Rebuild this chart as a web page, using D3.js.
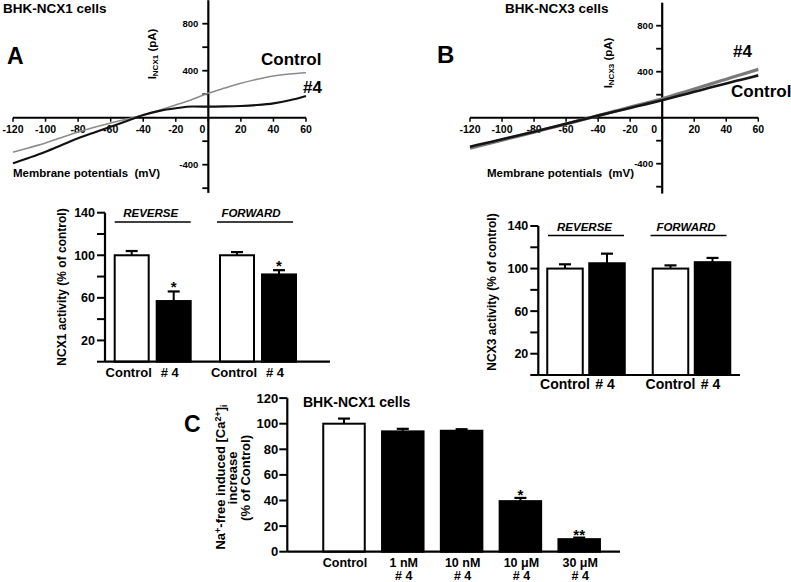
<!DOCTYPE html>
<html>
<head>
<meta charset="utf-8">
<script src="https://cdn.jsdelivr.net/npm/d3@7/dist/d3.min.js"></script>
<style>
    body { margin: 0; background: #fff; }
    text { font-family: "Liberation Sans", Arial, sans-serif; font-weight: bold; fill: #000; }
</style>
</head>
<body>
<svg id="fig" width="791" height="582"></svg>
<script>
// I-V traces, read every 10 mV
const voltages = [-120, -110, -100, -90, -80, -70, -60, -50, -40, -30, -20, -10, 0, 10, 20, 30, 40, 50, 60];
const ncx1Control = [-294, -255, -215, -168, -122, -82, -45, -12, 23, 63, 108, 155, 208, 252, 293, 327, 355, 372, 383];
const ncx1Cmpd4 = [-388, -340, -289, -232, -175, -125, -77, -28, 23, 58, 80, 95, 94, 96, 100, 108, 122, 148, 185];
const ncx3Control = [-252, -220, -188, -155, -122, -87, -52, -17, 18, 52, 85, 118, 152, 188, 225, 262, 298, 333, 368];
const ncx3Cmpd4 = [-265, -230, -195, -160, -125, -90, -55, -18, 18, 55, 92, 128, 165, 207, 250, 292, 335, 378, 420];
const mvTicks = [-120, -100, -80, -60, -40, -20, 0, 20, 40, 60];
const paTicks = [-600, -400, -200, 200, 400, 600, 800];
const paLabels = [800, 400, -400];

// activity bars
const modes = ["REVERSE", "FORWARD"];
const treatments = ["Control", "# 4"];
const ncx1Activity = [[100, 57], [100, 82]];
const ncx1Sem = [[4, 9], [3, 4]];
const ncx1Sig = [["", "*"], ["", "*"]];
const ncx3Activity = [[100, 105], [100, 106]];
const ncx3Sem = [[4, 9], [3, 4]];
const ncx3Sig = [["", ""], ["", ""]];
const activityTicks = [0, 20, 40, 60, 80, 100, 120, 140];
const activityLabels = [20, 60, 100, 140];

// dose response
const doses = ["Control", "1 nM", "10 nM", "10 μM", "30 μM"];
const doseSub = ["", "# 4", "# 4", "# 4", "# 4"];
const caIncrease = [100, 94, 94.5, 39.5, 9.8];
const caSem = [4, 2, 1.2, 2.5, 1.2];
const caSig = ["", "", "", "*", "**"];
const caTicks = [0, 20, 40, 60, 80, 100, 120];

var svg = d3.select("#fig");
svg.append("rect").attr("width", 791).attr("height", 582).attr("fill", "#fff");

function label(x, y, txt, size) {
    return svg.append("text").attr("x", x).attr("y", y)
        .style("font-size", size + "px").text(txt);
}

function ivPanel(o) {
    var x = d3.scaleLinear().domain([-120, 60]).range(o.xRange);
    var y = d3.scaleLinear().domain(o.yDomain).range(o.yRange);
    var g = svg.append("g");

    var line = d3.line()
        .x(function(d, i) { return x(voltages[i]); })
        .y(function(d) { return y(d); })
        .curve(d3.curveMonotoneX);

    // axes
    g.append("line")
        .attr("x1", x(-120)).attr("x2", x(60))
        .attr("y1", y(0)).attr("y2", y(0))
        .attr("stroke", "#000").attr("stroke-width", 2);
    g.append("line")
        .attr("x1", x(0)).attr("x2", x(0))
        .attr("y1", y(o.yDomain[0])).attr("y2", y(o.yDomain[1]))
        .attr("stroke", "#000").attr("stroke-width", 2.2);

    g.selectAll("line.xt").data(mvTicks).enter().append("line")
        .attr("class", "xt")
        .attr("x1", function(d) { return x(d); }).attr("x2", function(d) { return x(d); })
        .attr("y1", y(0)).attr("y2", y(0) + 4)
        .attr("stroke", "#000").attr("stroke-width", 1.5);
    g.selectAll("text.xl").data(mvTicks).enter().append("text")
        .attr("class", "xl")
        .attr("x", function(d) { return x(d) + (d === 0 ? o.zeroShift : 0); })
        .attr("y", y(0) + 15.5)
        .attr("text-anchor", "middle")
        .style("font-size", "10.5px")
        .text(function(d) { return d; });

    g.selectAll("line.yt").data(paTicks).enter().append("line")
        .attr("class", "yt")
        .attr("x1", x(0) - 6).attr("x2", x(0))
        .attr("y1", function(d) { return y(d); }).attr("y2", function(d) { return y(d); })
        .attr("stroke", "#000").attr("stroke-width", 1.8);
    g.selectAll("text.yl").data(paLabels).enter().append("text")
        .attr("class", "yl")
        .attr("x", x(0) - o.yLabelGap)
        .attr("y", function(d) { return y(d); })
        .attr("dy", "0.35em")
        .attr("text-anchor", "end")
        .style("font-size", "9.5px")
        .text(function(d) { return d; });

    o.curves.forEach(function(c) {
        g.append("path")
            .attr("d", line(c.values))
            .attr("fill", "none")
            .attr("stroke", c.color)
            .attr("stroke-width", c.width)
            .attr("stroke-linejoin", "round");
    });

    // axis titles
    g.append("text")
        .attr("x", o.xTitle[0]).attr("y", o.xTitle[1])
        .style("font-size", "11.5px").style("white-space", "pre")
        .text("Membrane potentials  (mV)");
    var yt = g.append("text")
        .attr("transform", "translate(" + o.yTitle[0] + "," + o.yTitle[1] + ") rotate(-90)")
        .attr("text-anchor", "middle").attr("dy", "0.35em")
        .style("font-size", "11.5px");
    yt.append("tspan").text("I");
    yt.append("tspan").attr("dy", 2).style("font-size", "8px").text(o.sub);
    yt.append("tspan").attr("dy", -2).style("white-space", "pre").text(" (pA)");
}

ivPanel({
    xRange: [13, 306], yDomain: [-640, 1000], yRange: [192.9, 0.2],
    zeroShift: -6, yLabelGap: 10,
    curves: [
        { values: ncx1Control, color: "#8c8c8c", width: 1.6 },
        { values: ncx1Cmpd4, color: "#111", width: 2.1 }
    ],
    xTitle: [13, 177], yTitle: [152, 54], sub: "NCX1"
});

ivPanel({
    xRange: [470, 758.3], yDomain: [-660, 1000], yRange: [193.6, 2.7],
    zeroShift: -8, yLabelGap: 9,
    curves: [
        { values: ncx3Cmpd4, color: "#7a7a7a", width: 3.2 },
        { values: ncx3Control, color: "#151515", width: 2.6 }
    ],
    xTitle: [487, 177], yTitle: [608, 63], sub: "NCX3"
});

label(3, 12.5, "BHK-NCX1 cells", 13.5);
label(505, 12.5, "BHK-NCX3 cells", 13.5);
label(7, 64, "A", 23);
label(437, 63, "B", 24);
label(261, 65, "Control", 17);
label(303, 93, "#4", 17);
label(733, 57, "#4", 17);
label(731, 97, "Control", 17);

function barPanel(o) {
    var y = d3.scaleLinear().domain([0, 140]).range(o.yRange);
    var gx = d3.scalePoint().domain(modes).range(o.groupRange);
    var tx = d3.scalePoint().domain(treatments).range([-21, 21]);
    var g = svg.append("g");

    var bars = [];
    modes.forEach(function(m, gi) {
        treatments.forEach(function(t, ti) {
            bars.push({ mode: m, treat: t, ti: ti,
                value: o.values[gi][ti], sem: o.sem[gi][ti], sig: o.sig[gi][ti] });
        });
    });
    var cx = function(d) { return gx(d.mode) + tx(d.treat); };

    // error bars (upper only)
    g.selectAll("line.err").data(bars).enter().append("line")
        .attr("class", "err")
        .attr("x1", cx).attr("x2", cx)
        .attr("y1", function(d) { return y(d.value); })
        .attr("y2", function(d) { return y(d.value + d.sem); })
        .attr("stroke", "#000").attr("stroke-width", 2);
    g.selectAll("line.cap").data(bars).enter().append("line")
        .attr("class", "cap")
        .attr("x1", function(d) { return cx(d) - 6; }).attr("x2", function(d) { return cx(d) + 6; })
        .attr("y1", function(d) { return y(d.value + d.sem); })
        .attr("y2", function(d) { return y(d.value + d.sem); })
        .attr("stroke", "#000").attr("stroke-width", 2.2);

    g.selectAll("rect").data(bars).enter().append("rect")
        .attr("x", function(d) { return cx(d) - o.barWidth / 2; })
        .attr("width", o.barWidth)
        .attr("y", function(d) { return y(d.value); })
        .attr("height", function(d) { return y(0) - y(d.value); })
        .attr("fill", function(d) { return d.ti === 0 ? "#fff" : "#000"; })
        .attr("stroke", "#000").attr("stroke-width", 2);

    g.selectAll("text.sig").data(bars).enter().append("text")
        .attr("class", "sig")
        .attr("x", cx)
        .attr("y", function(d) { return y(d.value + d.sem) + 1; })
        .attr("text-anchor", "middle")
        .style("font-size", "15px")
        .text(function(d) { return d.sig; });

    // axes
    g.append("line")
        .attr("x1", o.axisX).attr("x2", o.axisX)
        .attr("y1", y(0)).attr("y2", y(140))
        .attr("stroke", "#000").attr("stroke-width", 2.2);
    g.append("line")
        .attr("x1", o.axisX).attr("x2", o.axisEnd)
        .attr("y1", y(0)).attr("y2", y(0))
        .attr("stroke", "#000").attr("stroke-width", 2.2);
    g.selectAll("line.yt").data(activityTicks).enter().append("line")
        .attr("class", "yt")
        .attr("x1", o.axisX - 8).attr("x2", o.axisX)
        .attr("y1", function(d) { return y(d); }).attr("y2", function(d) { return y(d); })
        .attr("stroke", "#000").attr("stroke-width", 2);
    g.selectAll("text.yl").data(activityLabels).enter().append("text")
        .attr("class", "yl")
        .attr("x", o.axisX - 10)
        .attr("y", function(d) { return y(d); })
        .attr("dy", "0.35em")
        .attr("text-anchor", "end")
        .style("font-size", "12.5px")
        .text(function(d) { return d; });

    // x labels
    g.selectAll("text.xl").data(bars).enter().append("text")
        .attr("class", "xl")
        .attr("x", function(d) { return cx(d) + (d.ti === 0 ? o.ctlShift : o.cmpShift); })
        .attr("y", y(0) + o.xLabelDy)
        .attr("text-anchor", "middle")
        .style("font-size", o.xLabelSize + "px")
        .text(function(d) { return d.treat; });

    // mode headers
    modes.forEach(function(m, i) {
        g.append("text")
            .attr("x", gx(m) + o.headerShift[i]).attr("y", o.headerY)
            .attr("text-anchor", "middle")
            .style("font-size", "11.5px").style("font-style", "italic")
            .text(m);
        g.append("line")
            .attr("x1", gx(m) - 38 + o.lineShift[i]).attr("x2", gx(m) + 38 + o.lineShift[i])
            .attr("y1", o.headerY + 5).attr("y2", o.headerY + 5)
            .attr("stroke", "#000").attr("stroke-width", 1.6);
    });

    g.append("text")
        .attr("transform", "translate(" + o.yTitle[0] + "," + o.yTitle[1] + ") rotate(-90)")
        .attr("text-anchor", "middle").attr("dy", "0.35em")
        .style("font-size", "12px")
        .text(o.yTitleText);
}

barPanel({
    yRange: [361.7, 212.7], groupRange: [152.7, 258], barWidth: 34,
    values: ncx1Activity, sem: ncx1Sem, sig: ncx1Sig,
    axisX: 105, axisEnd: 330, xLabelDy: 15, xLabelSize: 13, ctlShift: -3, cmpShift: -4,
    headerY: 217, headerShift: [-2, -7], lineShift: [0, -3],
    yTitle: [62, 287], yTitleText: "NCX1 activity (% of control)"
});

barPanel({
    yRange: [375, 226], groupRange: [586, 691.5], barWidth: 35.5,
    values: ncx3Activity, sem: ncx3Sem, sig: ncx3Sig,
    axisX: 538.3, axisEnd: 740, xLabelDy: 13.5, xLabelSize: 14, ctlShift: 0, cmpShift: -2,
    headerY: 230.5, headerShift: [-1.5, -5.5], lineShift: [0, -3],
    yTitle: [492, 292], yTitleText: "NCX3 activity (% of control)"
});

// panel C
(function() {
    var y = d3.scaleLinear().domain([0, 120]).range([551.7, 398.1]);
    var x = d3.scalePoint().domain(doses).range([344, 579.2]);
    var axisX = 287.3, w = 41.5;
    var g = svg.append("g");

    g.selectAll("line.err").data(doses).enter().append("line")
        .attr("class", "err")
        .attr("x1", function(d) { return x(d); }).attr("x2", function(d) { return x(d); })
        .attr("y1", function(d, i) { return y(caIncrease[i]); })
        .attr("y2", function(d, i) { return y(caIncrease[i] + caSem[i]); })
        .attr("stroke", "#000").attr("stroke-width", 2);
    g.selectAll("line.cap").data(doses).enter().append("line")
        .attr("class", "cap")
        .attr("x1", function(d) { return x(d) - 6; }).attr("x2", function(d) { return x(d) + 6; })
        .attr("y1", function(d, i) { return y(caIncrease[i] + caSem[i]); })
        .attr("y2", function(d, i) { return y(caIncrease[i] + caSem[i]); })
        .attr("stroke", "#000").attr("stroke-width", 2.2);

    g.selectAll("rect").data(doses).enter().append("rect")
        .attr("x", function(d) { return x(d) - w / 2; })
        .attr("width", w)
        .attr("y", function(d, i) { return y(caIncrease[i]); })
        .attr("height", function(d, i) { return y(0) - y(caIncrease[i]); })
        .attr("fill", function(d, i) { return i === 0 ? "#fff" : "#000"; })
        .attr("stroke", "#000").attr("stroke-width", 2);

    g.selectAll("text.sig").data(doses).enter().append("text")
        .attr("class", "sig")
        .attr("x", function(d) { return x(d); })
        .attr("y", function(d, i) { return y(caIncrease[i] + caSem[i]) + 2; })
        .attr("text-anchor", "middle")
        .style("font-size", "15px")
        .text(function(d, i) { return caSig[i]; });

    g.append("line")
        .attr("x1", axisX).attr("x2", axisX)
        .attr("y1", y(0)).attr("y2", y(120))
        .attr("stroke", "#000").attr("stroke-width", 2.2);
    g.append("line")
        .attr("x1", axisX).attr("x2", 620)
        .attr("y1", y(0)).attr("y2", y(0))
        .attr("stroke", "#000").attr("stroke-width", 2.2);
    g.selectAll("line.yt").data(caTicks).enter().append("line")
        .attr("class", "yt")
        .attr("x1", axisX - 8).attr("x2", axisX)
        .attr("y1", function(d) { return y(d); }).attr("y2", function(d) { return y(d); })
        .attr("stroke", "#000").attr("stroke-width", 2);
    g.selectAll("text.yl").data(caTicks).enter().append("text")
        .attr("class", "yl")
        .attr("x", axisX - 9)
        .attr("y", function(d) { return y(d); })
        .attr("dy", "0.35em")
        .attr("text-anchor", "end")
        .style("font-size", "13px")
        .text(function(d) { return d; });

    g.selectAll("text.xl").data(doses).enter().append("text")
        .attr("class", "xl")
        .attr("x", function(d) { return x(d) + 1; })
        .attr("y", 566.5)
        .attr("text-anchor", "middle")
        .style("font-size", "12.5px")
        .text(function(d) { return d; });
    g.selectAll("text.xs").data(doseSub).enter().append("text")
        .attr("class", "xs")
        .attr("x", function(d, i) { return x(doses[i]) + 1; })
        .attr("y", 580)
        .attr("text-anchor", "middle")
        .style("font-size", "12.5px")
        .text(function(d) { return d; });

    // y title, three lines
    var t1 = g.append("text")
        .attr("transform", "translate(220,477) rotate(-90)")
        .attr("text-anchor", "middle").attr("dy", "0.35em")
        .style("font-size", "13px");
    t1.append("tspan").text("Na");
    t1.append("tspan").attr("dy", -4).style("font-size", "9px").text("+");
    t1.append("tspan").attr("dy", 4).text("-free induced [Ca");
    t1.append("tspan").attr("dy", -4).style("font-size", "9px").text("2+");
    t1.append("tspan").attr("dy", 4).text("]");
    t1.append("tspan").attr("dy", 2).style("font-size", "9px").text("i");
    g.append("text")
        .attr("transform", "translate(232.5,478) rotate(-90)")
        .attr("text-anchor", "middle").attr("dy", "0.35em")
        .style("font-size", "13px").text("increase");
    g.append("text")
        .attr("transform", "translate(245,478) rotate(-90)")
        .attr("text-anchor", "middle").attr("dy", "0.35em")
        .style("font-size", "13px").text("(% of Control)");
})();

label(184, 432, "C", 23);
label(303, 407, "BHK-NCX1 cells", 14);
</script>
</body>
</html>
